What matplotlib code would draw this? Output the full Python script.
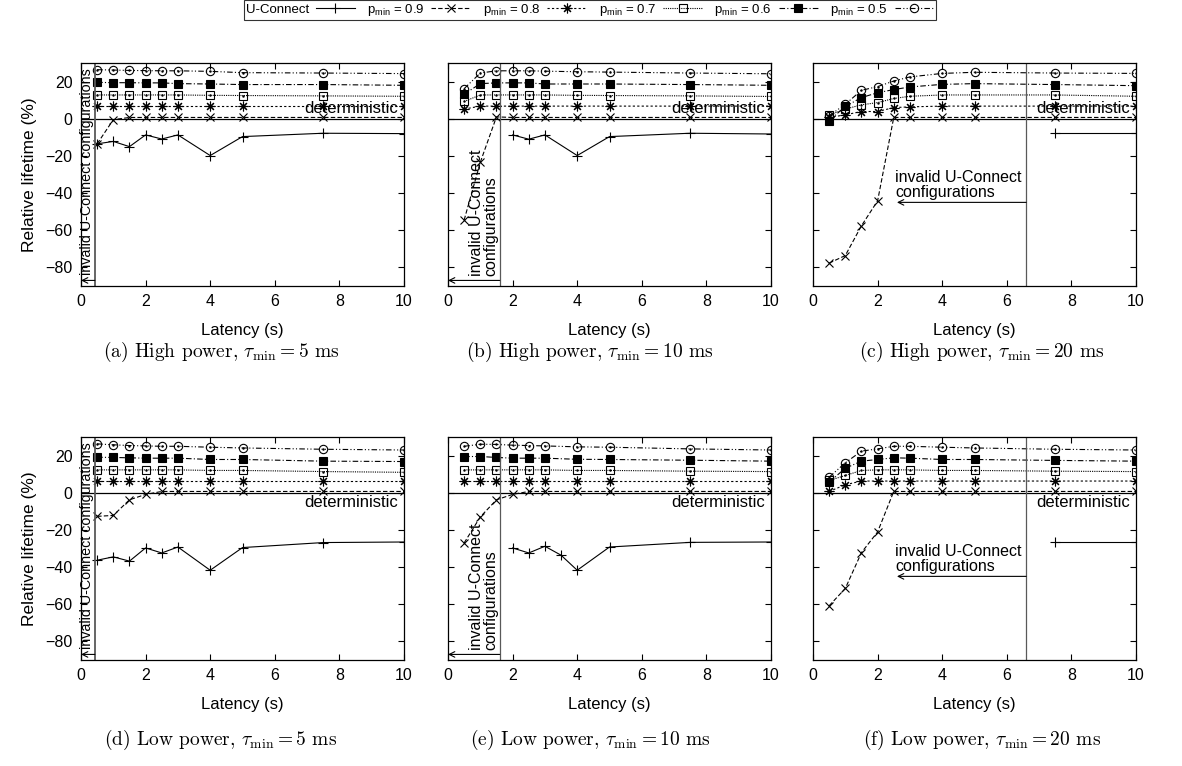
import numpy as np
import matplotlib
matplotlib.use('Agg')
import matplotlib.pyplot as plt

plt.rcParams['font.family'] = 'Liberation Sans'
plt.rcParams['mathtext.fontset'] = 'custom'
plt.rcParams['mathtext.rm'] = 'Liberation Sans'
plt.rcParams['mathtext.it'] = 'Liberation Sans:italic'

latency = [0.5, 1, 1.5, 2, 2.5, 3, 4, 5, 7.5, 10]

# (a) high power, 5 ms
uc_x_a = [0.5, 1, 1.5, 2, 2.5, 3, 4, 5, 7.5, 10]
uc_a = [-13.5, -12.2, -15, -8.7, -10.9, -8.7, -19.8, -9.6, -7.8, -8]
p09_a = [-13.5, -0.5, 0.7, 0.7, 0.7, 0.7, 0.7, 0.7, 0.7, 0.7]
p08_a = [6.8, 6.8, 6.8, 6.8, 6.8, 6.8, 6.8, 6.8, 6.8, 6.8]
p07_a = [12.8, 12.8, 12.8, 12.8, 12.8, 12.8, 12.6, 12.5, 12.3, 12.1]
p06_a = [19.6, 19.4, 19.4, 19.3, 19.3, 18.9, 18.7, 18.4, 18.4, 18.0]
p05_a = [26.4, 26.2, 26.0, 25.9, 25.8, 25.8, 25.5, 24.8, 24.6, 24.3]

# (b) high power, 10 ms
uc_x_b = [2, 2.5, 3, 4, 5, 7.5, 10]
uc_b = [-8.7, -11, -8.7, -19.8, -9.6, -7.8, -8.2]
p09_b = [-54.5, -23.4, 1.0, 0.7, 0.7, 0.7, 0.7, 0.7, 0.7, 0.7]
p08_b = [5.2, 6.8, 6.8, 6.8, 6.8, 6.8, 6.8, 6.8, 6.8, 6.8]
p07_b = [9.3, 12.8, 12.8, 12.8, 12.8, 12.8, 12.6, 12.5, 12.3, 12.0]
p06_b = [13.2, 18.9, 19.3, 19.3, 19.3, 18.7, 18.7, 18.7, 18.4, 18.0]
p05_b = [16.2, 24.6, 25.8, 25.8, 25.8, 25.6, 25.3, 25.1, 24.6, 24.2]

# (c) high power, 20 ms
uc_x_c = [7.5, 10]
uc_c = [-7.8, -7.8]
p09_c = [-77.7, -73.6, -57.6, -44.2, 0.7, 0.7, 0.7, 0.7, 0.7, 0.7]
p08_c = [0.7, 2.1, 3.9, 3.9, 6.0, 6.4, 6.8, 6.8, 6.8, 6.8]
p07_c = [2.0, 5.2, 7.5, 8.7, 10.9, 12.1, 12.8, 12.8, 12.8, 12.1]
p06_c = [-1.0, 6.6, 11.4, 14.0, 15.7, 17.1, 18.5, 18.9, 18.4, 17.8]
p05_c = [1.6, 7.8, 15.3, 17.3, 20.3, 22.5, 24.4, 25.0, 24.6, 24.4]

# (d) low power, 5 ms
uc_x_d = [0.5, 1, 1.5, 2, 2.5, 3, 4, 5, 7.5, 10]
uc_d = [-36.3, -34.5, -36.8, -29.7, -32.4, -29.2, -41.7, -29.5, -26.8, -26.5]
p09_d = [-12.7, -12.2, -3.8, -0.9, 0.7, 0.7, 0.7, 0.7, 0.7, 0.7]
p08_d = [6.3, 6.3, 6.3, 6.3, 6.3, 6.3, 6.3, 6.3, 6.3, 6.3]
p07_d = [12.3, 12.3, 12.3, 12.3, 12.3, 12.3, 12.0, 12.0, 11.4, 11.0]
p06_d = [19.1, 19.0, 18.8, 18.6, 18.6, 18.6, 17.9, 17.9, 17.0, 16.8]
p05_d = [26.3, 25.8, 25.4, 25.2, 25.0, 25.0, 24.5, 24.1, 23.4, 23.0]

# (e) low power, 10 ms
uc_x_e = [2, 2.5, 3, 3.5, 4, 5, 7.5, 10]
uc_e = [-29.7, -32.4, -28.8, -33.6, -41.7, -29.2, -26.7, -26.5]
p09_e = [-27.0, -13.0, -3.8, -0.9, 0.7, 0.7, 0.7, 0.7, 0.7, 0.7]
p08_e = [6.3, 6.3, 6.3, 6.3, 6.3, 6.3, 6.3, 6.3, 6.3, 6.3]
p07_e = [12.3, 12.3, 12.3, 12.3, 12.3, 12.3, 12.0, 12.0, 11.6, 11.4]
p06_e = [19.5, 19.5, 19.0, 18.6, 18.6, 18.6, 18.0, 17.9, 17.5, 17.0]
p05_e = [25.0, 26.1, 26.0, 25.6, 25.4, 25.2, 24.7, 24.5, 23.6, 23.0]

# (f) low power, 20 ms
uc_x_f = [7.5, 10]
uc_f = [-26.5, -26.5]
p09_f = [-60.8, -51.5, -32.2, -21.1, 0.7, 0.7, 0.7, 0.7, 0.7, 0.7]
p08_f = [0.7, 4.3, 6.3, 6.3, 6.3, 6.3, 6.3, 6.3, 6.3, 6.3]
p07_f = [6.6, 9.3, 12.0, 12.3, 12.3, 12.3, 12.0, 12.0, 11.6, 11.4]
p06_f = [5.7, 13.2, 17.0, 17.9, 18.8, 18.6, 17.9, 17.9, 17.4, 17.0]
p05_f = [8.4, 16.1, 22.4, 23.6, 25.0, 25.0, 24.5, 24.1, 23.4, 23.0]

# latency below which U-Connect configurations are invalid
invalid_limit = [0.43, 1.6, 6.6, 0.43, 1.6, 6.6]

captions = [r'(a) High power, $\tau_{\min} = 5$ ms',
            r'(b) High power, $\tau_{\min} = 10$ ms',
            r'(c) High power, $\tau_{\min} = 20$ ms',
            r'(d) Low power, $\tau_{\min} = 5$ ms',
            r'(e) Low power, $\tau_{\min} = 10$ ms',
            r'(f) Low power, $\tau_{\min} = 20$ ms']

panels = [
    (uc_x_a, uc_a, [p09_a, p08_a, p07_a, p06_a, p05_a]),
    (uc_x_b, uc_b, [p09_b, p08_b, p07_b, p06_b, p05_b]),
    (uc_x_c, uc_c, [p09_c, p08_c, p07_c, p06_c, p05_c]),
    (uc_x_d, uc_d, [p09_d, p08_d, p07_d, p06_d, p05_d]),
    (uc_x_e, uc_e, [p09_e, p08_e, p07_e, p06_e, p05_e]),
    (uc_x_f, uc_f, [p09_f, p08_f, p07_f, p06_f, p05_f]),
]

p_labels = ['p$_{\\rm min}$ = 0.9', 'p$_{\\rm min}$ = 0.8', 'p$_{\\rm min}$ = 0.7',
            'p$_{\\rm min}$ = 0.6', 'p$_{\\rm min}$ = 0.5']
p_styles = [
    dict(ls=(0, (4, 2)), marker='x', ms=6, mfc='none'),
    dict(ls=(0, (2, 2)), marker=(8, 2, 0), ms=7, mfc='none'),
    dict(ls=(0, (1, 1)), marker='s', ms=5.5, mfc='none'),
    dict(ls=(0, (5, 2, 1, 2)), marker='s', ms=6, mfc='black'),
    dict(ls=(0, (5, 2, 1, 2, 1, 2)), marker='o', ms=6, mfc='none'),
]

fig = plt.figure(figsize=(11.82, 7.66), dpi=100)
W, H = 1182.0, 766.0
col_left = [81, 448, 813]
row_top = [63, 437]
ax_w, ax_h = 323, 223
cap_x = [221, 590, 982]
cap_y = [352, 740]

for i, (ux, uy, series) in enumerate(panels):
    r, c = divmod(i, 3)
    ax = fig.add_axes([col_left[c] / W, 1 - (row_top[r] + ax_h) / H, ax_w / W, ax_h / H])
    ax.plot(ux, uy, color='black', lw=0.8, marker='+', ms=7, mew=0.8, label='U-Connect')
    for vals, lab, st in zip(series, p_labels, p_styles):
        ax.plot(latency, vals, color='black', lw=0.8, mew=0.8, mec='black', label=lab, **st)
        if st['mfc'] == 'none' and st['marker'] in ('s', 'o'):
            ax.plot(latency, vals, ls='none', marker='.', ms=1.5, color='black')
    ax.axhline(0, color='black', lw=0.9)
    lim = invalid_limit[i]
    ax.axvline(lim, color='0.35', lw=1.3 if c == 0 else 0.9)

    if c == 0:
        ax.text(lim - 0.02, -84, 'invalid U-Connect configurations', rotation=90,
                ha='right', va='bottom', fontsize=10.3)
        ax.annotate('', xy=(0, -87), xytext=(lim, -87),
                    arrowprops=dict(arrowstyle='->', lw=0.8, shrinkA=0, shrinkB=0))
    elif c == 1:
        ax.text(lim - 0.05, -84.5, 'invalid U-Connect\nconfigurations', rotation=90,
                ha='right', va='bottom', fontsize=11.5, multialignment='left',
                linespacing=0.95)
        ax.annotate('', xy=(0, -87), xytext=(lim, -87),
                    arrowprops=dict(arrowstyle='->', lw=0.8, shrinkA=0, shrinkB=0))
    else:
        ax.text(2.55, -43.5, 'invalid U-Connect\nconfigurations', ha='left', va='bottom',
                fontsize=11.5, linespacing=0.95)
        ax.annotate('', xy=(2.6, -45), xytext=(lim, -45),
                    arrowprops=dict(arrowstyle='->', lw=0.8, shrinkA=0, shrinkB=0))

    ax.text(9.8, 5.3 if r == 0 else -5.5, 'deterministic', ha='right', va='center',
            fontsize=12)

    ax.set_xlim(0, 10)
    ax.set_ylim(-90, 30)
    ax.set_xticks([0, 2, 4, 6, 8, 10])
    ax.set_yticks([-80, -60, -40, -20, 0, 20])
    ax.tick_params(direction='in', top=True, right=True, labelsize=11.5, length=4,
                   width=0.8, pad=6)
    if c != 0:
        ax.set_yticklabels([])
    else:
        ax.set_ylabel('Relative lifetime (%)', fontsize=12.5, labelpad=6)
    ax.set_xlabel('Latency (s)', fontsize=12, labelpad=10)
    for s in ax.spines.values():
        s.set_linewidth(0.9)

    fig.text(cap_x[c] / W, 1 - cap_y[r] / H, captions[i], ha='center', va='center',
             family='cmr10', math_fontfamily='cm', fontsize=14)
    if i == 0:
        handles, labels = ax.get_legend_handles_labels()

leg = fig.legend(handles, labels, loc='center', bbox_to_anchor=(590 / W, 1 - 10 / H),
                 ncol=6, markerfirst=False, frameon=True, fancybox=False,
                 edgecolor='black', fontsize=9.5, handlelength=3.0,
                 columnspacing=0.9, handletextpad=0.5, borderpad=0.15)
leg.get_frame().set_linewidth(0.8)

fig.savefig('out.png', dpi=100)
